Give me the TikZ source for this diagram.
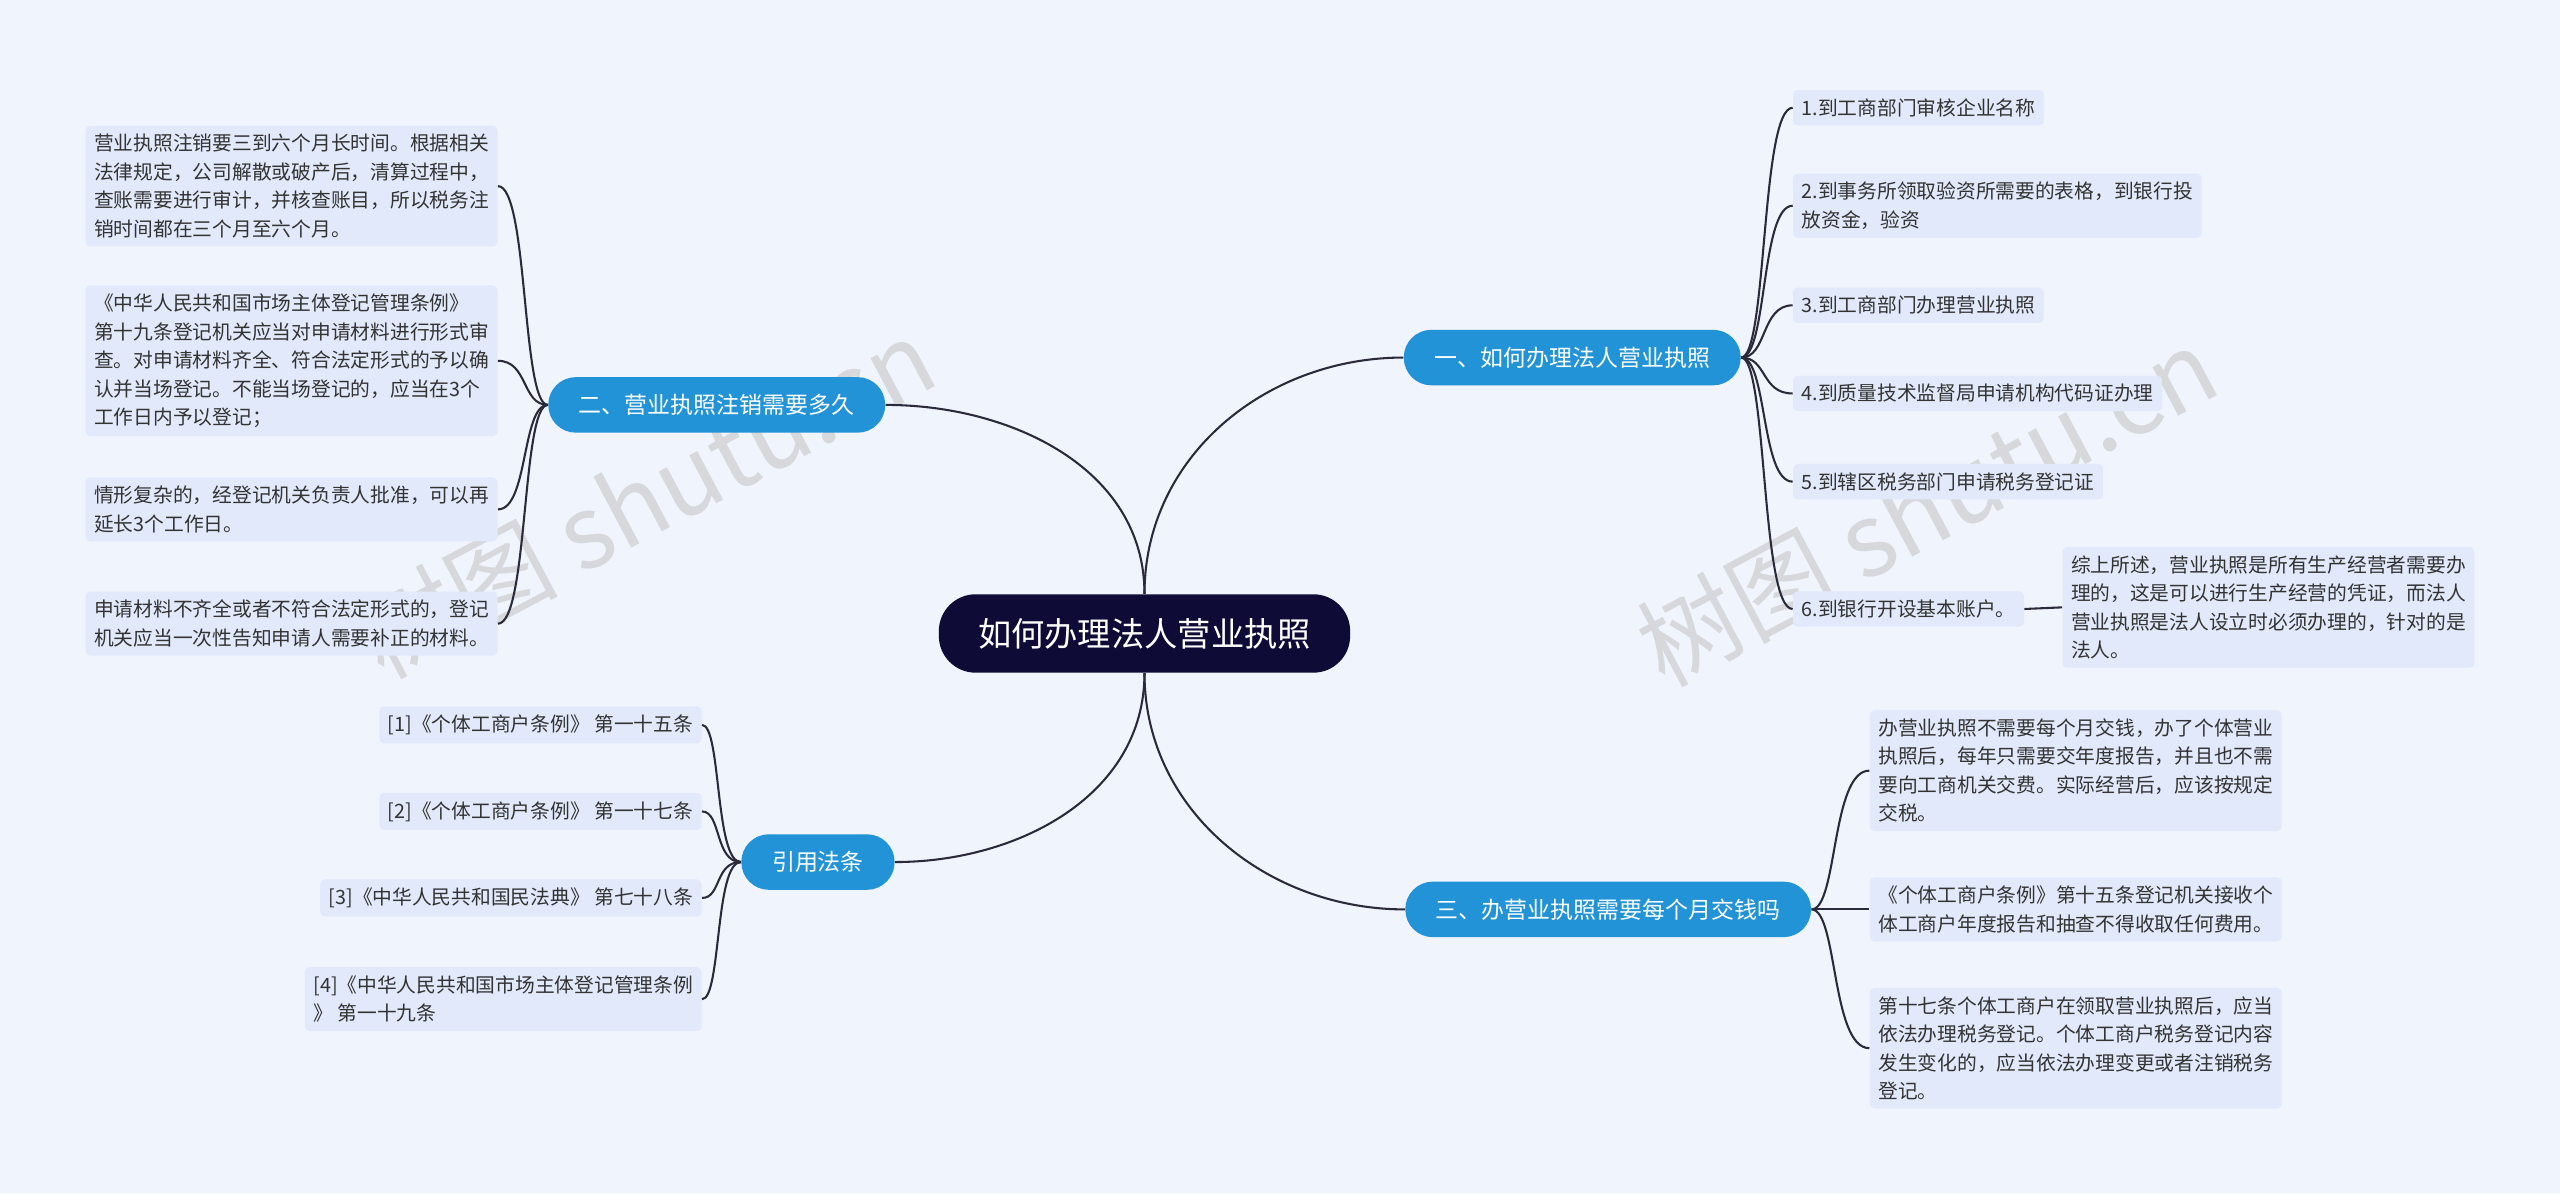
\documentclass[tikz,border=0pt]{standalone}
\usepackage{fontspec}
\setmainfont{Noto Sans CJK SC}
\usetikzlibrary{calc}
\definecolor{bgcol}{HTML}{EFF4FD}
\definecolor{rootcol}{HTML}{0E0C36}
\definecolor{brcol}{HTML}{2293D6}
\definecolor{leafcol}{HTML}{E1E9FA}
\definecolor{linecol}{HTML}{2A2A3A}
\tikzset{
  rootbox/.style={fill=rootcol, text=white, rounded corners=16pt, minimum height=1.2cm,
    inner xsep=0.6cm, font=\fontsize{14.5}{17}\selectfont},
  branchbox/.style={fill=brcol, text=white, rounded corners=12pt, minimum height=0.85cm,
    inner xsep=0.47cm, font=\fontsize{10}{12}\selectfont},
  leafbox/.style={fill=leafcol, text=black!80, rounded corners=2pt, inner sep=0.13cm,
    align=left, font=\fontsize{8.6}{12.4}\selectfont},
  link/.style={draw=linecol, line width=0.9pt},
  mark text/.style={text=gray!45, opacity=0.6, rotate=28, font=\fontsize{44}{50}\selectfont}
}
% connector from a branch to a leaf, bending near the branch
\newcommand{\rlink}[2]{\draw[link] (#1.east) .. controls ($(#1.east)+(16,0)$) and ($(#1.east|-#2.west)+(12,0)$) .. (#2.west);}
\newcommand{\llink}[2]{\draw[link] (#1.west) .. controls ($(#1.west)+(-16,0)$) and ($(#1.west|-#2.east)+(-12,0)$) .. (#2.east);}
\begin{document}
\begin{tikzpicture}[x=0.025cm, y=-0.025cm]
  \fill[bgcol] (0,0) rectangle (1568,731);
  \useasboundingbox (0,0) rectangle (1568,731);

  % watermarks
  \node[mark text] at (395,305) {树图 shutu.cn};
  \node[mark text] at (1180,310) {树图 shutu.cn};

  % root and branches
  \node[rootbox] (root) at (701,388) {如何办理法人营业执照};
  \node[branchbox] (law) at (963,219) {一、如何办理法人营业执照};
  \node[branchbox] (time) at (439,248) {二、营业执照注销需要多久};
  \node[branchbox] (fee) at (985,557) {三、办营业执照需要每个月交钱吗};
  \node[branchbox] (ref) at (501,528) {引用法条};

  \draw[link] (root.north) to[out=90, in=180] (law.west);
  \draw[link] (root.north) to[out=90, in=0] (time.east);
  \draw[link] (root.south) to[out=-90, in=180] (fee.west);
  \draw[link] (root.south) to[out=-90, in=0] (ref.east);

  % branch one
  \node[leafbox, anchor=west] (s1) at (1098,66) {1.到工商部门审核企业名称};
  \node[leafbox, anchor=west] (s2) at (1098,126) {2.到事务所领取验资所需要的表格，到银行投\\放资金，验资};
  \node[leafbox, anchor=west] (s3) at (1098,187) {3.到工商部门办理营业执照};
  \node[leafbox, anchor=west] (s4) at (1098,241) {4.到质量技术监督局申请机构代码证办理};
  \node[leafbox, anchor=west] (s5) at (1098,295) {5.到辖区税务部门申请税务登记证};
  \node[leafbox, anchor=west] (s6) at (1098,373) {6.到银行开设基本账户。};
  \node[leafbox, anchor=west] (s6a) at (1263,372) {综上所述，营业执照是所有生产经营者需要办\\理的，这是可以进行生产经营的凭证，而法人\\营业执照是法人设立时必须办理的，针对的是\\法人。};
  \foreach \s in {s1,s2,s3,s4,s5,s6} {\rlink{law}{\s}}
  \draw[link] (s6.east) -- (s6a.west);

  % branch two
  \node[leafbox, anchor=east] (t1) at (305,114) {营业执照注销要三到六个月长时间。根据相关\\法律规定，公司解散或破产后，清算过程中，\\查账需要进行审计，并核查账目，所以税务注\\销时间都在三个月至六个月。};
  \node[leafbox, anchor=east] (t2) at (305,221) {《中华人民共和国市场主体登记管理条例》\\第十九条登记机关应当对申请材料进行形式审\\查。对申请材料齐全、符合法定形式的予以确\\认并当场登记。不能当场登记的，应当在3个\\工作日内予以登记；};
  \node[leafbox, anchor=east] (t3) at (305,312) {情形复杂的，经登记机关负责人批准，可以再\\延长3个工作日。};
  \node[leafbox, anchor=east] (t4) at (305,382) {申请材料不齐全或者不符合法定形式的，登记\\机关应当一次性告知申请人需要补正的材料。};
  \foreach \t in {t1,t2,t3,t4} {\llink{time}{\t}}

  % branch three
  \node[leafbox, anchor=west] (f1) at (1145,472) {办营业执照不需要每个月交钱，办了个体营业\\执照后，每年只需要交年度报告，并且也不需\\要向工商机关交费。实际经营后，应该按规定\\交税。};
  \node[leafbox, anchor=west] (f2) at (1145,557) {《个体工商户条例》第十五条登记机关接收个\\体工商户年度报告和抽查不得收取任何费用。};
  \node[leafbox, anchor=west] (f3) at (1145,642) {第十七条个体工商户在领取营业执照后，应当\\依法办理税务登记。个体工商户税务登记内容\\发生变化的，应当依法办理变更或者注销税务\\登记。};
  \foreach \f in {f1,f2,f3} {\rlink{fee}{\f}}

  % references
  \node[leafbox, anchor=east] (r1) at (430,444) {[1]《个体工商户条例》 第一十五条};
  \node[leafbox, anchor=east] (r2) at (430,497) {[2]《个体工商户条例》 第一十七条};
  \node[leafbox, anchor=east] (r3) at (430,550) {[3]《中华人民共和国民法典》 第七十八条};
  \node[leafbox, anchor=east] (r4) at (430,612) {[4]《中华人民共和国市场主体登记管理条例\\》 第一十九条};
  \foreach \r in {r1,r2,r3,r4} {\llink{ref}{\r}}
\end{tikzpicture}
\end{document}
